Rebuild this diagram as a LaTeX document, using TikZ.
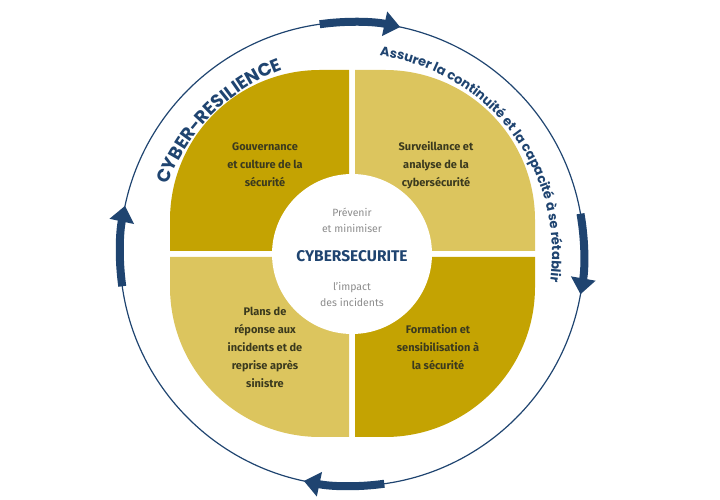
\documentclass[tikz,border=0pt]{standalone}
\usepackage{fontspec}
\setmainfont{Fira Sans}
\newfontfamily\popp{Poppins}
\usetikzlibrary{arrows.meta,decorations.text}
\definecolor{navy}{HTML}{1F4470}
\definecolor{goldA}{HTML}{C4A302}
\definecolor{goldB}{HTML}{DCC55E}
\definecolor{txt}{HTML}{3B3A1E}
\begin{document}
\begin{tikzpicture}[x=1pt,y=1pt,
  qtext/.style={align=center,text=txt,font=\fontsize{11}{18}\selectfont\bfseries},
  ctext/.style={align=center,text=gray!90,font=\fontsize{10.5}{16}\selectfont},
  cyc/.style={navy,line width=8pt,-{Triangle[length=16pt,width=24pt]}}]
\useasboundingbox (0,0) rectangle (720,500);
\coordinate (C) at (352,246);
% quadrants
\fill[goldA] (349,249) -- (349,430) -- (320,430) arc[start angle=90,end angle=180,radius=150] -- (170,249) -- cycle;
\fill[goldB] (355,249) -- (355,430) -- (385,430) arc[start angle=90,end angle=0,radius=150] -- (535,249) -- cycle;
\fill[goldB] (349,243) -- (349,63) -- (320,63) arc[start angle=-90,end angle=-180,radius=150] -- (170,243) -- cycle;
\fill[goldA] (355,243) -- (355,63) -- (385,63) arc[start angle=-90,end angle=0,radius=150] -- (535,243) -- cycle;
\fill[white] (C) circle[radius=80];
% outer circle
\draw[navy,line width=1.2pt] (C) circle[radius=232];
% arrows
\draw[cyc] ([shift={(98:232)}]C) arc[start angle=98,end angle=78,radius=232];
\draw[cyc] ([shift={(10:232)}]C) arc[start angle=10,end angle=-10,radius=232];
\draw[cyc] ([shift={(-82:232)}]C) arc[start angle=-82,end angle=-102,radius=232];
\draw[cyc] ([shift={(188:232)}]C) arc[start angle=188,end angle=168,radius=232];
% curved texts
\path[decorate,decoration={text along path,text align=center,
  text={|\popp\fontsize{18}{18}\selectfont\bfseries\color{navy}|CYBER-RESILIENCE}}]
  ([shift={(172:197)}]C) arc[start angle=172,end angle=98,radius=197];
\path[decorate,decoration={text along path,text align=center,
  text={|\popp\fontsize{13}{14}\selectfont\bfseries\color{navy}|Assurer la continuité et la capacité à se rétablir}}]
  ([shift={(92:200)}]C) arc[start angle=92,end angle=-18,radius=200];
% quadrant texts
\node[qtext] (q1) at (265,335) {Gouvernance\\et culture de la\\sécurité};
\node[qtext] (q2) at (436,335) {Surveillance et\\analyse de la\\cybersécurité};
\node[qtext] (q3) at (265,153) {Plans de\\réponse aux\\incidents et de\\reprise après\\sinistre};
\node[qtext] (q4) at (438,153) {Formation et\\sensibilisation à\\la sécurité};
% center
\node[ctext] (c1) at (352,280) {Prévenir\\et minimiser};
\node[text=navy,font=\fontsize{15.5}{16}\selectfont\bfseries] (c2) at (352,244) {CYBERSECURITE};
\node[ctext] (c3) at (352,206) {l'impact\\des incidents};
\end{tikzpicture}
\end{document}
